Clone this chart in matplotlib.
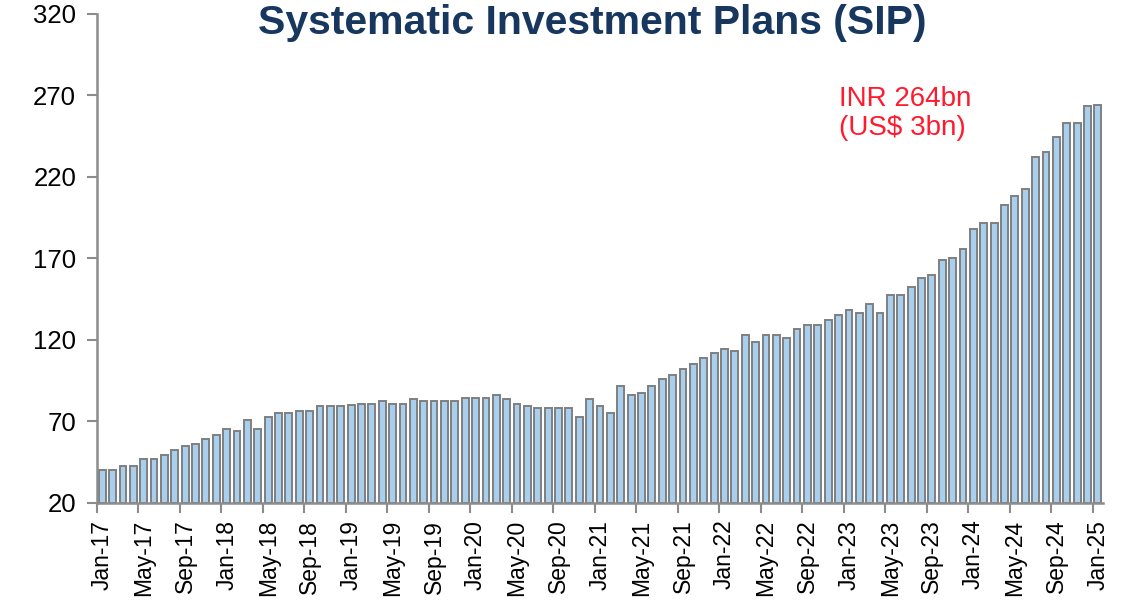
import matplotlib
matplotlib.use("Agg")
import matplotlib.pyplot as plt
import numpy as np

plt.rcParams['font.family'] = ['Liberation Sans', 'DejaVu Sans']

# Monthly SIP inflows, INR bn, Jan-17 .. Jan-25
months = ["Jan", "Feb", "Mar", "Apr", "May", "Jun",
          "Jul", "Aug", "Sep", "Oct", "Nov", "Dec"]
years = list(range(17, 26))
period_labels = [f"{m}-{y}" for y in years for m in months][:97]

sip_inflows = [
    40.2, 40.0, 42.7, 42.7, 46.9, 47.0, 49.4, 52.5, 54.9, 56.5, 59.2, 61.6,   # 2017
    65.7, 64.3, 71.2, 65.7, 72.5, 75.3, 75.3, 76.5, 76.5, 79.4, 79.4, 79.4,   # 2018
    80.4, 81.0, 81.0, 82.3, 81.0, 81.0, 83.5, 82.3, 82.3, 82.3, 82.3, 84.7,   # 2019
    84.7, 84.7, 86.1, 83.5, 81.0, 79.6, 78.0, 78.0, 78.0, 78.0, 72.9, 83.7,   # 2020
    79.4, 75.3, 91.6, 86.1, 87.5, 91.6, 95.9, 98.4, 102.5, 105.1, 109.2, 112.0,  # 2021
    114.7, 113.3, 122.9, 118.8, 122.9, 122.9, 121.5, 127.0, 129.4, 129.4, 132.5, 135.1,  # 2022
    138.2, 136.5, 141.9, 136.5, 147.4, 147.4, 152.5, 158.0, 159.6, 168.8, 170.2, 176.0,  # 2023
    187.8, 191.9, 191.9, 202.9, 208.2, 212.7, 232.5, 235.6, 244.7, 252.9, 252.9, 263.7,  # 2024
    264.0,                                                                    # 2025
]

y_ticks = [20, 70, 120, 170, 220, 270, 320]
label_step = 4

fig = plt.figure(figsize=(11.32, 6.08), dpi=100)
ax = fig.add_axes([0.0857, 0.1727, 0.8887, 0.8043])

x = np.arange(len(sip_inflows))
ax.bar(x, np.array(sip_inflows) - y_ticks[0], bottom=y_ticks[0], width=0.66,
       color="#A9CFEE", edgecolor="#7F7F7F", linewidth=1.4, zorder=2)

ax.set_xlim(-0.5, len(sip_inflows) - 0.5)
ax.set_ylim(y_ticks[0], y_ticks[-1])
ax.set_yticks(y_ticks)
ax.set_yticklabels([str(v) for v in y_ticks], fontsize=18.5, color="#000000")

# category labels every 4 months, tick marks on category boundaries
lab_pos = x[::label_step]
ax.set_xticks(lab_pos)
ax.set_xticklabels([period_labels[i] for i in lab_pos], rotation=90,
                   fontsize=16.5, color="#000000")
ax.set_xticks(lab_pos - 0.5, minor=True)
ax.tick_params(axis="x", which="major", length=0, pad=12)
ax.tick_params(axis="x", which="minor", length=7, width=1.5, color="#8C8C8C")
ax.tick_params(axis="y", length=7, width=1.5, color="#8C8C8C", pad=8)

for side in ("top", "right"):
    ax.spines[side].set_visible(False)
for side in ("left", "bottom"):
    ax.spines[side].set_color("#8C8C8C")
    ax.spines[side].set_linewidth(1.8)

fig.text(0.523, 0.962, "Systematic Investment Plans (SIP)", ha="center",
         va="center", fontsize=29.5, fontweight="bold", color="#17375E")

ax.text(71.0, 259.0, f"INR {sip_inflows[-1]:.0f}bn\n(US$ 3bn)", ha="left",
        va="center", fontsize=20, color="#FF1A2E", linespacing=1.15)

fig.savefig("out.png", dpi=100)
